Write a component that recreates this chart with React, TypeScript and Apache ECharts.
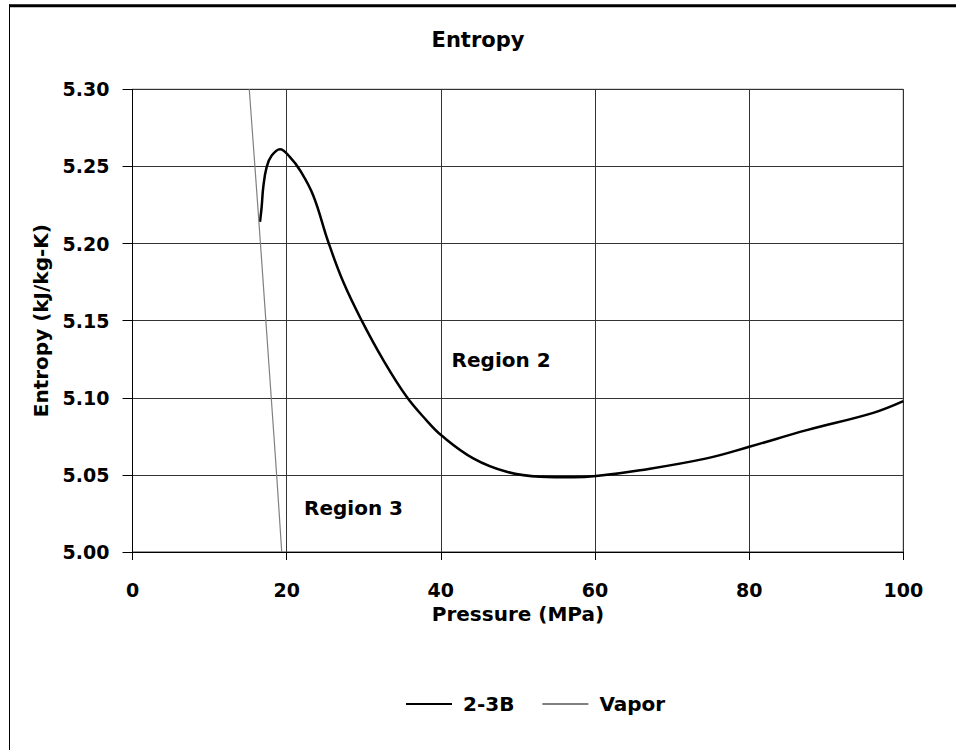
import React, { useEffect, useRef } from "react";
import * as echarts from "echarts";

const pressure23B = [16.54, 16.76, 16.97, 17.41, 18.06, 19.14, 20.43, 21.73, 23.46, 25.4, 27.35, 29.74, 32.54, 35.57, 38.17, 40.1, 44.21, 48.55, 52.87, 57.19, 60.13, 65.84, 74.49, 80.02, 87.47, 96.1, 100.0];
const entropy23B = [5.214, 5.224, 5.2368, 5.2497, 5.257, 5.2612, 5.256, 5.2475, 5.231, 5.201, 5.175, 5.150, 5.1244, 5.1006, 5.0852, 5.0755, 5.0607, 5.052, 5.0488, 5.0484, 5.0492, 5.053, 5.0607, 5.0682, 5.079, 5.0902, 5.0978];

const pressureVapor = [15.15, 15.88, 16.6, 17.3, 18.0, 18.7, 19.36];
const entropyVapor = [5.3, 5.25, 5.2, 5.15, 5.1, 5.05, 5.0];

const seriesNames = ["2-3B", "Vapor"];
const regionLabels = ["Region 2", "Region 3"];
const regionCoords: [number, number][] = [[41.4, 5.1245], [22.25, 5.0285]];

const FONT = "DejaVu Sans";

export default function App() {
  const ref = useRef<HTMLDivElement>(null);
  useEffect(() => {
    if (!ref.current) return;
    const chart = echarts.init(ref.current, null, { renderer: "svg" });
    const zip = (xs: number[], ys: number[]) => xs.map((x, i) => [x, ys[i]]);
    const textBase = { fontFamily: FONT, fontWeight: "bold" as const, color: "#000", fontSize: 19 };
    chart.setOption({
      animation: false,
      backgroundColor: "#fff",
      title: {
        text: "Entropy",
        left: "center",
        top: 29,
        textStyle: { ...textBase, fontSize: 21 },
        padding: 0,
      },
      grid: {
        left: 132.5,
        right: 52.7,
        top: 89.3,
        bottom: 198,
        show: true,
        borderColor: "#333",
        borderWidth: 1,
      },
      legend: {
        data: seriesNames,
        left: 401,
        top: 689,
        itemWidth: 46,
        itemHeight: 14,
        itemGap: 28,
        icon: "path://M0,6 L46,6 L46,8 L0,8 Z",
        textStyle: { ...textBase, fontSize: 20, padding: [0, 0, 0, 6] },
      },
      xAxis: {
        type: "value",
        min: 0,
        max: 100,
        interval: 20,
        name: "Pressure (MPa)",
        nameLocation: "middle",
        nameGap: 52,
        nameTextStyle: { ...textBase, fontSize: 20 },
        axisLine: { show: true, lineStyle: { color: "#000", width: 1 } },
        axisTick: { show: true, length: 8, lineStyle: { color: "#000" } },
        axisLabel: { ...textBase, margin: 28 },
        splitLine: { show: true, lineStyle: { color: "#333", width: 1 } },
      },
      yAxis: {
        type: "value",
        min: 5.0,
        max: 5.3,
        interval: 0.05,
        name: "Entropy (kJ/kg-K)",
        nameLocation: "middle",
        nameGap: 82,
        nameTextStyle: { ...textBase, fontSize: 20 },
        axisLine: { show: true, lineStyle: { color: "#000", width: 1 } },
        axisTick: { show: true, length: 10, lineStyle: { color: "#000" } },
        axisLabel: { ...textBase, margin: 23, formatter: (v: number) => v.toFixed(2) },
        splitLine: { show: true, lineStyle: { color: "#333", width: 1 } },
      },
      series: [
        {
          name: seriesNames[0],
          type: "line",
          data: zip(pressure23B, entropy23B),
          symbol: "none",
          smooth: 0.4,
          lineStyle: { color: "#000", width: 2.5 },
          itemStyle: { color: "#000" },
          markPoint: {
            symbol: "circle",
            symbolSize: 0,
            label: {
              show: true,
              position: "right",
              distance: 0,
              ...textBase,
              fontSize: 20,
              formatter: (p: any) => p.name,
            },
            data: regionLabels.map((n, i) => ({ name: n, coord: regionCoords[i] })),
          },
        },
        {
          name: seriesNames[1],
          type: "line",
          data: zip(pressureVapor, entropyVapor),
          symbol: "none",
          smooth: 0.3,
          lineStyle: { color: "#808080", width: 1.2 },
          itemStyle: { color: "#808080" },
        },
      ],
      graphic: [
        { type: "line", shape: { x1: 9, y1: 5.8, x2: 956, y2: 5.8 }, style: { stroke: "#000", lineWidth: 3 }, silent: true },
        { type: "line", shape: { x1: 9.5, y1: 4.3, x2: 9.5, y2: 750 }, style: { stroke: "#000", lineWidth: 1 }, silent: true },
      ],
    });
    return () => chart.dispose();
  }, []);
  return (
    <div
      ref={ref}
      style={{ position: "absolute", left: 0, top: 0, width: 956, height: 750 }}
    />
  );
}
